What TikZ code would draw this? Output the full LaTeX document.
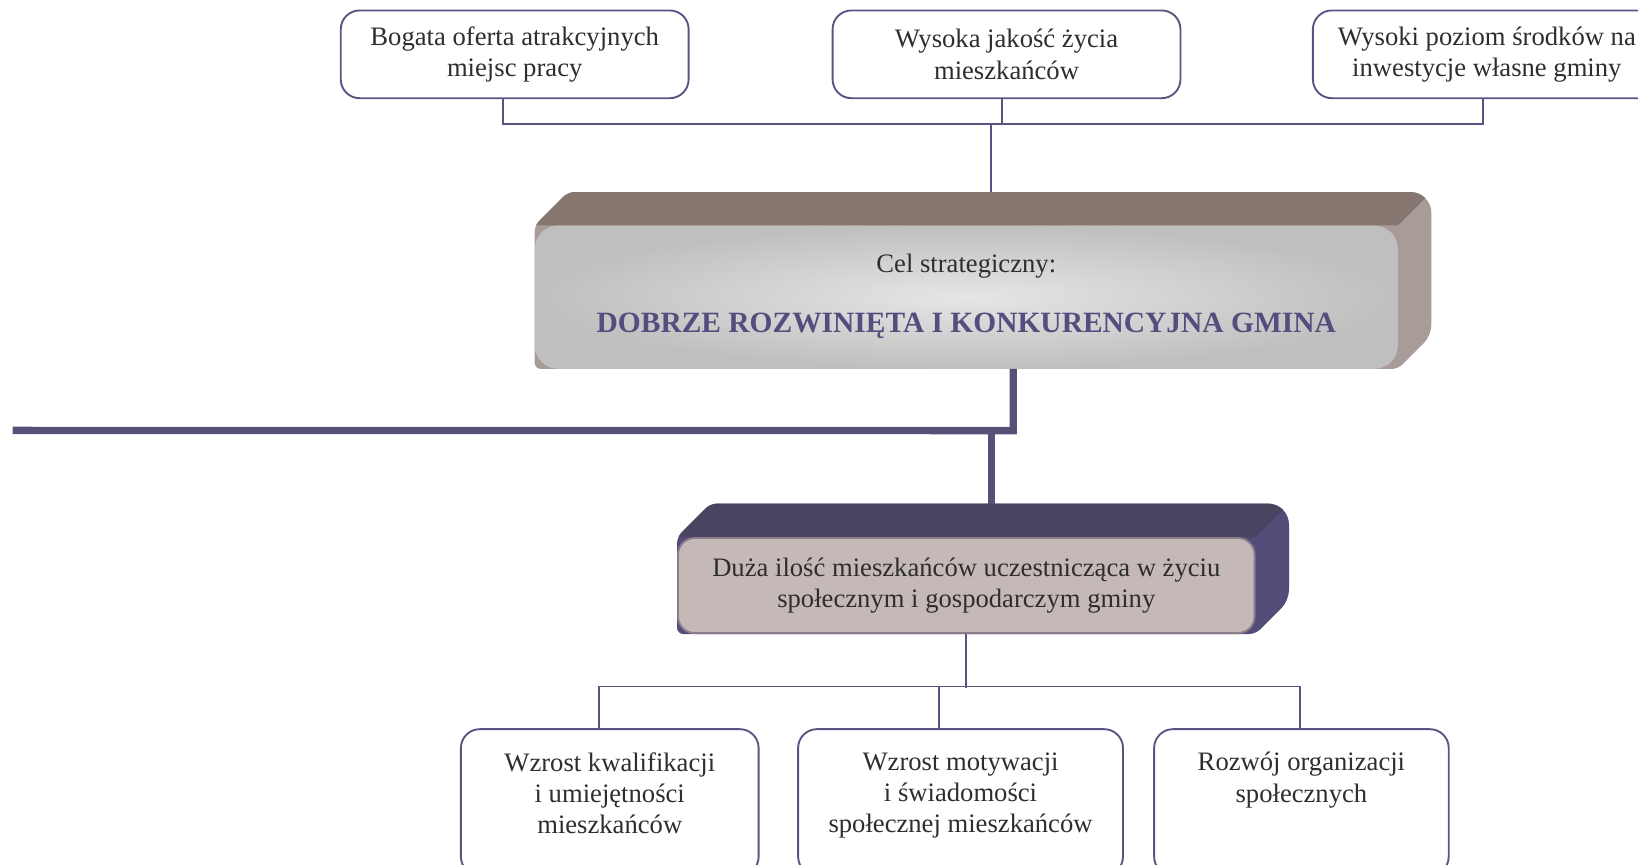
\documentclass[tikz,border=0pt]{standalone}
\usepackage{fontspec}
\setmainfont{Liberation Serif}
\usetikzlibrary{positioning, backgrounds}

\definecolor{liniowy}{HTML}{5A5482}
\definecolor{gruby}{HTML}{575079}
\definecolor{napis}{HTML}{2E2E2E}
\definecolor{tytul}{HTML}{554D7E}
\definecolor{celgora}{HTML}{857670}
\definecolor{celbok}{HTML}{A99C98}
\definecolor{duzagora}{HTML}{4A4460}
\definecolor{duzabok}{HTML}{534B78}
\definecolor{duzaprzod}{HTML}{C4B9B6}
\definecolor{duzaramka}{HTML}{8B7D8C}

% obrys bryly za wezlem
\newcommand{\obrys}[1]{(#1.south west) [rounded corners=6pt] -- (#1.north west)
  -- ([xshift=32pt,yshift=32pt]#1.north west) [rounded corners=20pt] -- ([xshift=32pt,yshift=32pt]#1.north east)
  [rounded corners=10pt] -- ([xshift=32pt,yshift=32pt]#1.south east) [rounded corners=6pt] -- (#1.south east) -- cycle}
% bryla: wezel, kolor boku, kolor gory
\newcommand{\bryla}[3]{%
  \begin{scope}[on background layer]
    \fill[#2] \obrys{#1};
    \begin{scope}
      \clip \obrys{#1};
      \fill[#3] (#1.north west) -- ([xshift=32pt,yshift=32pt]#1.north west)
        -- ([xshift=32pt,yshift=32pt]#1.north east) -- (#1.north east) -- cycle;
    \end{scope}
  \end{scope}}

\begin{document}
\begin{tikzpicture}
	[x=1pt, y=-1pt, font=\fontsize{25.5}{30}\selectfont, text=napis,
	 ramka/.style={draw=liniowy, line width=1.8pt, rounded corners=18pt, fill=white,
	   align=center, minimum width=333pt, minimum height=84pt, inner sep=0pt},
	 dolna/.style={ramka, minimum height=140pt},
	 opis/.style={align=center, inner sep=0pt},
	 linia/.style={draw=liniowy, line width=1.8pt},
	 gruba/.style={draw=gruby, line width=7pt}]
   \useasboundingbox (0,0) rectangle (1568,828);
   \clip (0,0) rectangle (1568,828);

   % gorny rzad
   \node[ramka] (jakosc) at (963.5,52) {Wysoka jakość życia\\mieszkańców};
   \node[ramka] (oferta) [left=136pt of jakosc] {Bogata oferta atrakcyjnych\\miejsc pracy};
   \node[ramka] (srodki) [right=125pt of jakosc] {Wysoki poziom środków na\\inwestycje własne gminy};

   % cel strategiczny
   \node[rounded corners=22pt, minimum width=826pt, minimum height=137pt, align=center,
         shade, shading=radial, inner color=gray!20, outer color=gray!50] (cel) at (925,284.5)
         {Cel strategiczny:\\[27pt]{\fontsize{28.2}{30}\selectfont\bfseries\color{tytul}DOBRZE ROZWINIĘTA I KONKURENCYJNA GMINA}\\[-22pt]};
   \bryla{cel}{celbok}{celgora}

   % cel operacyjny
   \node[draw=duzaramka, line width=1.8pt, fill=duzaprzod, rounded corners=16pt, minimum width=552pt,
         minimum height=91pt, align=center] (duza) at (925,560.5)
         {Duża ilość mieszkańców uczestnicząca w życiu\\społecznym i gospodarczym gminy};
   \bryla{duza}{duzabok}{duzagora}

   % dolny rzad
   \node[dolna, minimum width=311pt] (motyw) at (919.5,768) {};
   \node[dolna, minimum width=285pt] (kwal) [left=36pt of motyw] {};
   \node[dolna, minimum width=282pt] (rozwoj) [right=28pt of motyw] {};
   \node[opis, below=23pt of kwal.north] (kwalt) {Wzrost kwalifikacji\\i umiejętności\\mieszkańców};
   \node[opis, below=23pt of motyw.north] (motywt) {Wzrost motywacji\\i świadomości\\społecznej mieszkańców};
   \node[opis, below=23pt of rozwoj.north] (rozwojt) {Rozwój organizacji\\społecznych};

   % polaczenia
   \coordinate (lewy) at (12,412);
   \coordinate (wezel) at (949,412);
   \draw[linia] ([xshift=-11pt]oferta.south) -- ++(0,24) -| ([xshift=-4pt]srodki.south);
   \draw[linia] ([xshift=-4pt]jakosc.south) -- ++(0,24);
   \draw[linia] ([xshift=24pt,yshift=32pt]cel.north) -- ++(0,-66);
   \draw[gruba] ([xshift=45pt]cel.south) -- ++(0,59) -- (lewy);
   \draw[gruba] (wezel) -- ([xshift=24pt,yshift=32pt]duza.north);
   \draw[linia] (duza.south) -- ++(0,52);
   \draw[linia] ([xshift=-10pt]kwal.north) -- ++(0,-40) -| ([xshift=-1pt]rozwoj.north);
   \draw[linia] ([xshift=-21pt]motyw.north) -- ++(0,-40);
\end{tikzpicture}
\end{document}
